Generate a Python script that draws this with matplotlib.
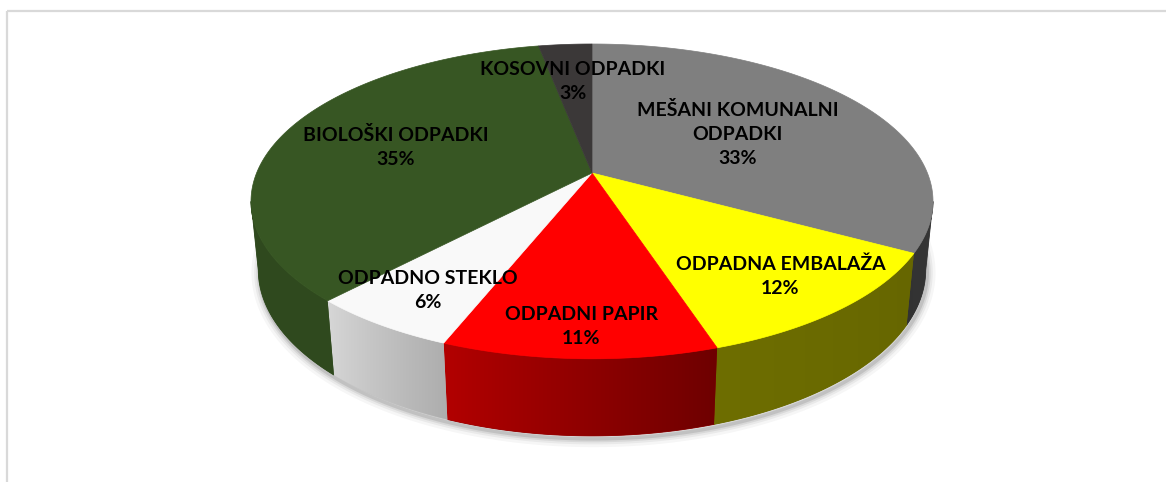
import numpy as np
import matplotlib
matplotlib.use("Agg")
import matplotlib.pyplot as plt
from matplotlib.patches import Polygon, Rectangle
from matplotlib.colors import to_rgb

# ---- data ----
categories = ["MEŠANI KOMUNALNI\nODPADKI", "ODPADNA EMBALAŽA", "ODPADNI PAPIR",
              "ODPADNO STEKLO", "BIOLOŠKI ODPADKI", "KOSOVNI ODPADKI"]
shares = [33, 12, 11, 6, 35, 3]
percent_labels = ["33%", "12%", "11%", "6%", "35%", "3%"]

# ---- style ----
colors = ["#7F7F7F", "#FFFF00", "#FF0000", "#F9F9F9", "#375623", "#3B3838"]
label_radius = [0.53, 0.785, 0.855, 0.80, 0.63, 0.68]

W, H = 1166, 482
fig = plt.figure(figsize=(W / 100, H / 100), dpi=100)
ax = fig.add_axes([0, 0, 1, 1])
ax.set_xlim(0, W)
ax.set_ylim(H, 0)
ax.axis("off")

# chart frame
ax.add_patch(Rectangle((7, 11), W + 20, H + 20, fill=False, edgecolor="#D9D9D9",
                       lw=1.6, clip_on=False))

# ---- perspective camera ----
elev = np.deg2rad(27.0)
s, c = np.sin(elev), np.cos(elev)
dist = 4.94
thick = 0.23
half_width = 341.0
cx, cy = 592.0, 173.0

_ph = np.deg2rad(np.linspace(-90, 90, 2001))
_maxu = np.max(np.cos(_ph) / (dist + c * np.sin(_ph)))
focal = half_width / _maxu


def project(phi_deg, z, r=1.0):
    p = np.deg2rad(np.asarray(phi_deg, dtype=float))
    x, y = r * np.cos(p), r * np.sin(p)
    w = -y * c + z * s
    v = y * s + z * c
    k = focal / (dist - w)
    return cx + x * k, cy - v * k


total = float(sum(shares))
edges = 90.0 - 360.0 * np.concatenate([[0.0], np.cumsum(shares)]) / total

# visible side range
phi_sil = np.rad2deg(np.arcsin(c / dist))
vis_lo, vis_hi = -180.0 + phi_sil, -phi_sil


def brightness(phi):
    return np.interp(phi, [-172, -133, -111.6, -72, -30, -8],
                     [0.86, 0.86, 0.70, 0.43, 0.40, 0.45])


# ---- shadow ----
ring = np.linspace(0, 360, 361)
bx, by = project(ring, -thick)
for lw, a in [(12, 0.035), (8, 0.05), (5, 0.07), (2.5, 0.10)]:
    ax.add_patch(Polygon(np.column_stack([bx + 1.5, by + 3.0]), closed=True,
                         fill=False, edgecolor="black", lw=lw, alpha=a,
                         joinstyle="round"))

# rim mapping screen-x -> angle (front, visible part)
rim_phi = np.linspace(vis_lo, vis_hi, 2000)
rim_x, _ = project(rim_phi, 0.0)

# ---- side walls (gradient clipped to wall shape) ----
for i in range(len(shares)):
    a1, a2 = edges[i], edges[i + 1]
    lo, hi = max(a2, vis_lo), min(a1, vis_hi)
    if lo >= hi:
        continue
    ph = np.linspace(lo, hi, 200)
    tx, ty = project(ph, 0.0)
    bx2, by2 = project(ph[::-1], -thick)
    pts = np.column_stack([np.r_[tx, bx2], np.r_[ty, by2]])
    base = np.array(to_rgb(colors[i]))
    mean_col = np.clip(base * brightness(0.5 * (lo + hi)), 0, 1)
    poly = Polygon(pts, closed=True, facecolor=mean_col, edgecolor=mean_col, lw=0.6)
    ax.add_patch(poly)
    x0, x1 = pts[:, 0].min() - 2, pts[:, 0].max() + 2
    y0, y1 = pts[:, 1].min() - 2, pts[:, 1].max() + 2
    cols = np.linspace(x0, x1, 400)
    phis = np.interp(cols, rim_x, rim_phi)
    img = np.clip(base[None, :] * brightness(phis)[:, None], 0, 1)[None, :, :]
    im = ax.imshow(img, extent=[x0, x1, y1, y0], aspect="auto",
                   interpolation="bilinear", zorder=poly.get_zorder() + 0.01)
    im.set_clip_path(poly)

ax.set_xlim(0, W)
ax.set_ylim(H, 0)

# ---- top surface ----
for i in range(len(shares)):
    a1, a2 = edges[i], edges[i + 1]
    arc = np.linspace(a1, a2, max(3, int(abs(a1 - a2)) * 2))
    ax_, ay_ = project(arc, 0.0)
    px = np.r_[cx, ax_]
    py = np.r_[cy, ay_]
    ax.add_patch(Polygon(np.column_stack([px, py]), closed=True,
                         facecolor=colors[i], edgecolor=colors[i], lw=0.5,
                         zorder=3))

# ---- labels ----
for i in range(len(shares)):
    mid = 0.5 * (edges[i] + edges[i + 1])
    lx, ly = project(mid, 0.0, r=label_radius[i])
    ax.text(float(lx), float(ly), categories[i] + "\n" + percent_labels[i],
            ha="center", va="center", multialignment="center",
            fontsize=14, fontweight="bold", family=["Lato", "DejaVu Sans"],
            color="black", linespacing=1.5, zorder=5)

fig.savefig("out.png", dpi=100)
